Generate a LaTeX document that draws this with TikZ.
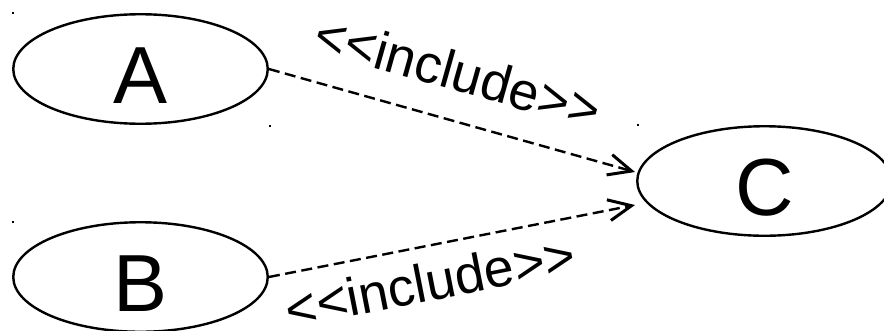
\documentclass[tikz,border=0pt]{standalone}
\usepackage{fontspec}
\setmainfont{Liberation Sans}[Ligatures=TeXOff]
\usetikzlibrary{shapes.geometric,arrows.meta,calc}

\begin{document}
\begin{tikzpicture}[x=1pt,y=-1pt,
  usecase/.style={ellipse, draw, line width=2.4pt,
    minimum width=254.5pt, minimum height=109.5pt, inner sep=0pt,
    font=\fontsize{81}{90}\selectfont, text height=68pt, text depth=0pt},
  include/.style={dash pattern=on 11pt off 5.5pt, line width=2.4pt,
    -{Straight Barb[length=23pt,width=21pt,line width=3pt]}},
  stereo/.style={font=\fontsize{53.5}{60}\selectfont, inner sep=0pt,
    anchor=base, sloped},
  corner/.style={fill, inner sep=0pt, minimum size=2.8pt}
]
\useasboundingbox (0,0) rectangle (884,330);
\clip (0,0) rectangle (884,330);

% use cases
\node[usecase] (A) at (140.5,69) {A};
\node[usecase] (B) at (140.5,277) {B};
\node[usecase] (C) at (764.5,181) {C};

% bounding-box corner markers
\node[corner] (A1) at (13,13) {};
\node[corner] (A2) at (270,126) {};
\node[corner] (B1) at (13,222) {};
\node[corner] (C1) at (638,125) {};

% include relations
\coordinate (CA) at ($(C.west)+(-1,-9)$);
\coordinate (CB) at ($(C.west)+(-1,24)$);
\draw[include] (A.east) -- node[stereo, pos=0.481, yshift=29.5pt] (LA) {<<include>>} (CA);
\draw[include] (B.east) -- node[stereo, pos=0.422, yshift=-55pt] (LB) {<<include>>} (CB);
\end{tikzpicture}
\end{document}
